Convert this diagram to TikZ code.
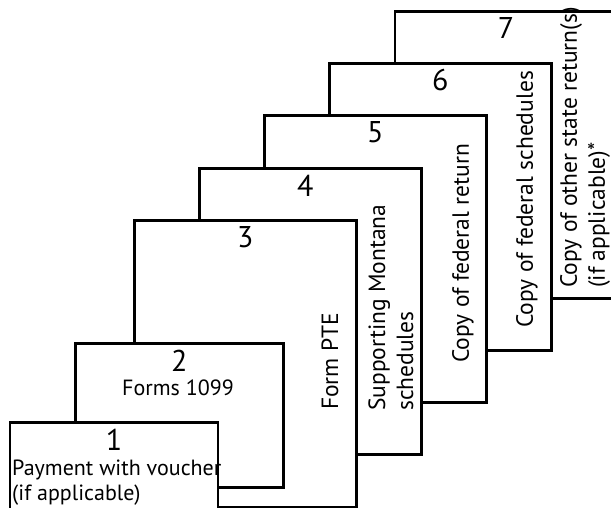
\documentclass[tikz,border=0pt]{standalone}
\usepackage{fontspec}
\setmainfont{PT Sans}
\usetikzlibrary{positioning}
\begin{document}
\begin{tikzpicture}[x=1pt,y=-1pt,line join=miter]
                    \tikzset{sheet/.style={draw,line width=2.8pt,fill=white,rectangle,inner sep=0pt,anchor=north west},
                             num/.style={font=\fontsize{30}{31}\selectfont,inner sep=0pt},
                             txt/.style={font=\fontsize{22}{25}\selectfont,inner sep=0pt,align=left},
                             sidetxt/.style={font=\fontsize{23.5}{28}\selectfont,inner sep=0pt,rotate=90,anchor=west,align=left}}
                    \useasboundingbox (0,0) rectangle (611,508);
                    \clip (0,0) rectangle (611,508);
                    % the sheets, back to front
                    \foreach \n/\x/\y/\w/\h/\dx in {7/393.6/10/222/287/0,6/328/62/222/287/0,5/263/114/222/287/0,4/198/167/222/286/-5,3/133/219/222/287/0,2/74/342/208/144/0,1/8.6/421/208/145/0}
                    {
                        \node[sheet,minimum width=\w pt,minimum height=\h pt] (s\n) at (\x,\y) {};
                        \node[num] (d\n) at ([xshift=\dx pt,yshift=-18.5pt]s\n.north) {\n};
                    }
                    \node[txt,anchor=west] (t1) at (12,483) {Payment with voucher\\(if applicable)};
                    \node[txt] (t2) at (178,388) {Forms 1099};
                    \node[sidetxt] (t3) at (330,410) {Form PTE};
                    \node[sidetxt] (t4) at (391,411) {Supporting Montana\\schedules};
                    \node[sidetxt] (t5) at (463,363) {Copy of federal return};
                    \node[sidetxt] (t6) at (527,328) {Copy of federal schedules};
                    \node[sidetxt] (t7) at (585,288) {Copy of other state return(s)\\(if applicable)*};
                \end{tikzpicture}
\end{document}
